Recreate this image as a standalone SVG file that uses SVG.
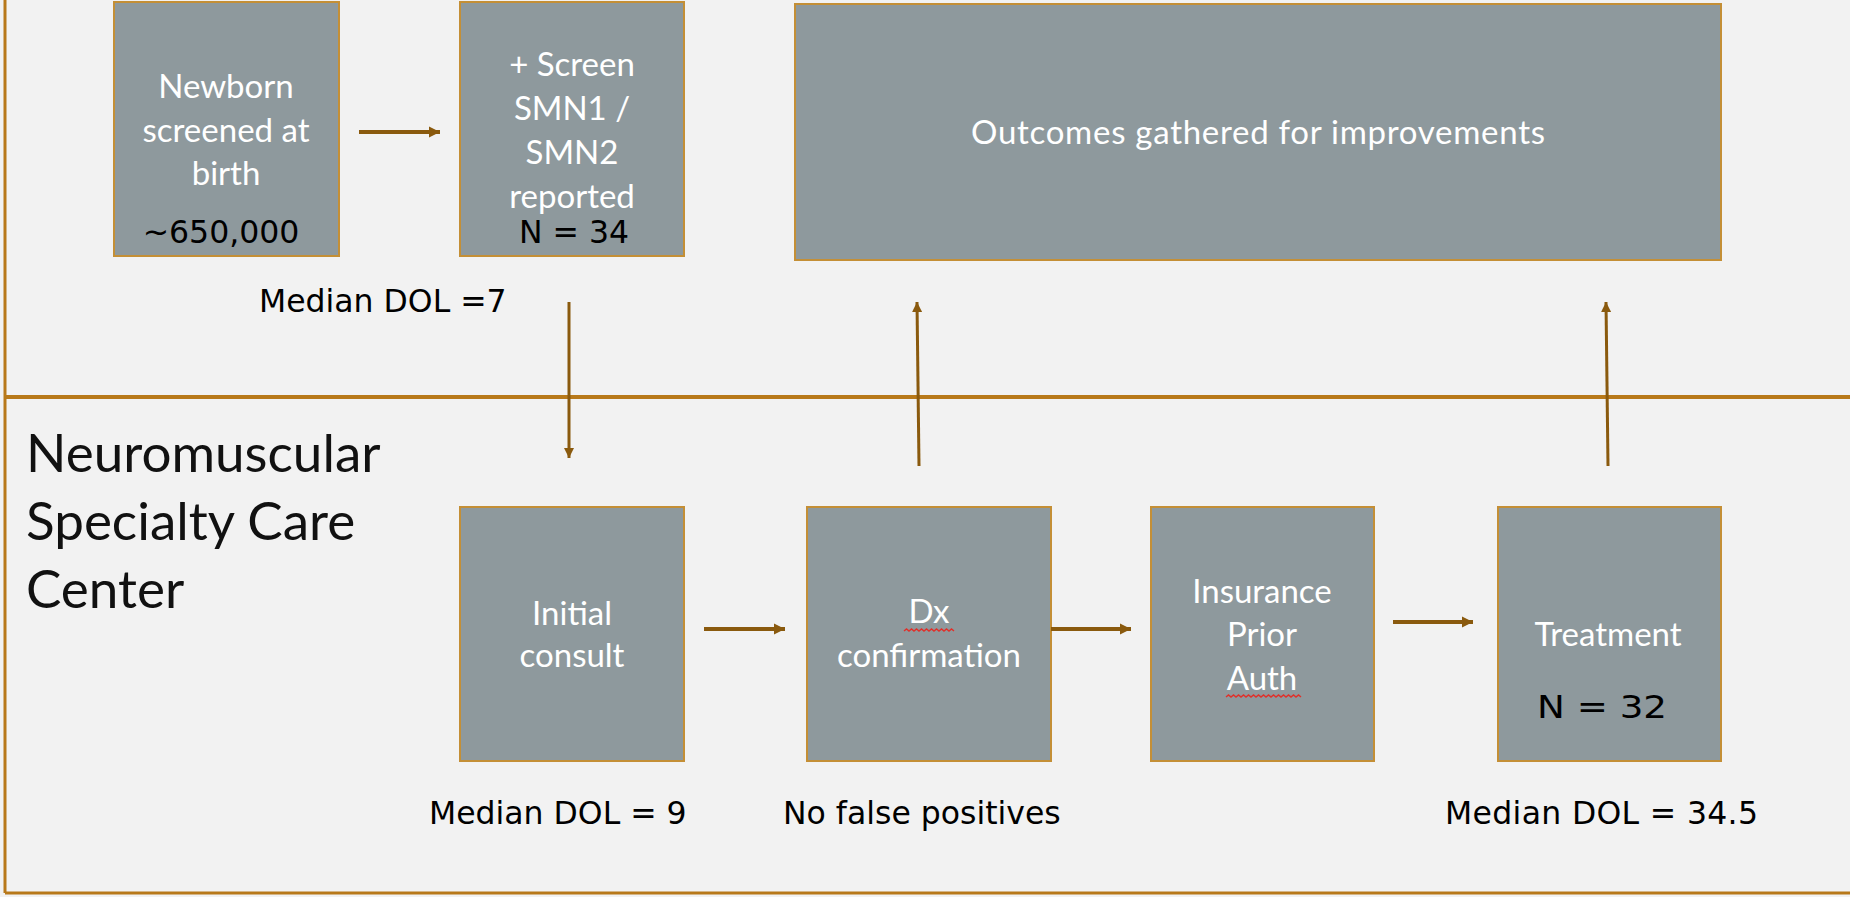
<svg xmlns="http://www.w3.org/2000/svg" width="1850" height="897" viewBox="0 0 1850 897">
  <style>
    .box { fill: #8E999D; stroke: #C48F36; stroke-width: 2; }
    .frame { stroke: #B8791A; fill: none; }
    .btxt { font-family: Lato, "Open Sans", sans-serif; font-size: 33px; fill: #FFFFFF; text-anchor: middle; }
    .lbl { font-family: "DejaVu Sans", Verdana, sans-serif; font-size: 31.5px; fill: #000000; }
    .head { font-family: Lato, "Open Sans", sans-serif; font-size: 53px; fill: #111111; }
    .conn { stroke: #8A5A0E; fill: none; }
    .thick { stroke-width: 4; marker-end: url(#headThick); }
    .thin { stroke-width: 3; marker-end: url(#headThin); }
    .squig { stroke: #E0302A; stroke-width: 1.5; fill: none; }
  </style>
  <defs>
    <marker id="headThick" viewBox="0 0 10 10" refX="10" refY="5" markerUnits="userSpaceOnUse" markerWidth="11" markerHeight="13" orient="auto">
      <path d="M0,0 L10,5 L0,10 z" fill="#8A5A0E"/>
    </marker>
    <marker id="headThin" viewBox="0 0 10 10" refX="10" refY="5" markerUnits="userSpaceOnUse" markerWidth="11" markerHeight="10" orient="auto">
      <path d="M0,0 L10,5 L0,10 z" fill="#8A5A0E"/>
    </marker>
  </defs>

  <rect x="0" y="0" width="1850" height="897" fill="#F2F2F2"/>

  <!-- swimlane frame -->
  <g id="frame">
    <line class="frame" x1="5" y1="0" x2="5" y2="893" stroke-width="3"/>
    <line class="frame" x1="5" y1="893" x2="1850" y2="893" stroke-width="3"/>
    <line class="frame" x1="5" y1="397" x2="1850" y2="397" stroke-width="4"/>
  </g>

  <g id="lane-title">
    <text class="head" x="26" y="472">Neuromuscular</text>
    <text class="head" x="26" y="540">Specialty Care</text>
    <text class="head" x="26" y="608">Center</text>
  </g>

  <!-- upper lane -->
  <g id="newborn">
    <rect class="box" x="114" y="2" width="225" height="254"/>
    <text class="btxt" x="226" y="98">Newborn</text>
    <text class="btxt" x="226" y="142">screened at</text>
    <text class="btxt" x="226" y="185">birth</text>
    <text class="lbl" x="221" y="243" text-anchor="middle">~650,000</text>
  </g>

  <g id="screen">
    <rect class="box" x="460" y="2" width="224" height="254"/>
    <text class="btxt" x="572" y="76">+ Screen</text>
    <text class="btxt" x="572" y="120">SMN1 /</text>
    <text class="btxt" x="572" y="164">SMN2</text>
    <text class="btxt" x="572" y="208">reported</text>
    <text class="lbl" x="574" y="243" text-anchor="middle">N = 34</text>
  </g>

  <g id="outcomes">
    <rect class="box" x="795" y="4" width="926" height="256"/>
    <text class="btxt" x="1258" y="144" textLength="574">Outcomes gathered for improvements</text>
  </g>

  <!-- lower lane -->
  <g id="consult">
    <rect class="box" x="460" y="507" width="224" height="254"/>
    <text class="btxt" x="572" y="625">Initial</text>
    <text class="btxt" x="572" y="667">consult</text>
  </g>

  <g id="dx">
    <rect class="box" x="807" y="507" width="244" height="254"/>
    <text class="btxt" x="929" y="623">Dx</text>
    <text class="btxt" x="929" y="667">confirmation</text>
    <path class="squig" d="M904,631 l2.5,-2 l2.5,2 l2.5,-2 l2.5,2 l2.5,-2 l2.5,2 l2.5,-2 l2.5,2 l2.5,-2 l2.5,2 l2.5,-2 l2.5,2 l2.5,-2 l2.5,2 l2.5,-2 l2.5,2 l2.5,-2 l2.5,2 l2.5,-2 l2.5,2"/>
  </g>

  <g id="insurance">
    <rect class="box" x="1151" y="507" width="223" height="254"/>
    <text class="btxt" x="1262" y="603">Insurance</text>
    <text class="btxt" x="1262" y="646">Prior</text>
    <text class="btxt" x="1262" y="690">Auth</text>
    <path class="squig" d="M1226,697 l2.5,-2 l2.5,2 l2.5,-2 l2.5,2 l2.5,-2 l2.5,2 l2.5,-2 l2.5,2 l2.5,-2 l2.5,2 l2.5,-2 l2.5,2 l2.5,-2 l2.5,2 l2.5,-2 l2.5,2 l2.5,-2 l2.5,2 l2.5,-2 l2.5,2 l2.5,-2 l2.5,2 l2.5,-2 l2.5,2 l2.5,-2 l2.5,2 l2.5,-2 l2.5,2 l2.5,-2 l2.5,2"/>
  </g>

  <g id="treatment">
    <rect class="box" x="1498" y="507" width="223" height="254"/>
    <text class="btxt" x="1608" y="646">Treatment</text>
    <text class="lbl" x="1537" y="718" font-size="38" textLength="130" lengthAdjust="spacingAndGlyphs">N = 32</text>
  </g>

  <!-- annotations -->
  <g id="notes">
    <text class="lbl" x="259" y="312">Median DOL =7</text>
    <text class="lbl" x="429" y="824">Median DOL = 9</text>
    <text class="lbl" x="783" y="824">No false positives</text>
    <text class="lbl" x="1445" y="824" textLength="313">Median DOL = 34.5</text>
  </g>

  <!-- connectors -->
  <g id="connectors">
    <line class="conn thick" x1="359" y1="132" x2="440" y2="132"/>
    <line class="conn thin" x1="569" y1="302" x2="569" y2="458"/>
    <line class="conn thin" x1="919" y1="466" x2="917" y2="302"/>
    <line class="conn thin" x1="1608" y1="466" x2="1606" y2="302"/>
    <line class="conn thick" x1="704" y1="629" x2="785" y2="629"/>
    <line class="conn thick" x1="1051" y1="629" x2="1131" y2="629"/>
    <line class="conn thick" x1="1393" y1="622" x2="1473" y2="622"/>
  </g>
</svg>
